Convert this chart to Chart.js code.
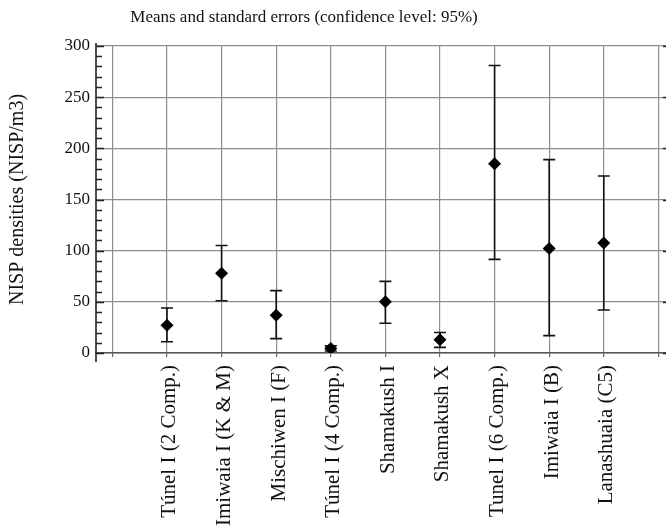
<!DOCTYPE html>
<html>
<head>
<meta charset="utf-8">
<script src="https://cdn.jsdelivr.net/npm/chart.js@4.4.1/dist/chart.umd.min.js"></script>
<style>
  html, body { margin: 0; padding: 0; background: #ffffff; overflow: hidden; }
  #wrap { width: 666px; height: 529px; }
  canvas { display: block; }
</style>
</head>
<body>
<div id="wrap"><canvas id="chart" width="666" height="529"></canvas></div>
<script>
// Mean NISP densities per site, with 95% confidence bounds
const chartTitle = 'Means and standard errors (confidence level: 95%)';
const yAxisTitle = 'NISP densities (NISP/m3)';

const categories = [
  'Túnel I (2 Comp.)',
  'Imiwaia I (K & M)',
  'Mischiwen I (F)',
  'Túnel I (4 Comp.)',
  'Shamakush I',
  'Shamakush X',
  'Tunel I (6 Comp.)',
  'Imiwaia I (B)',
  'Lanashuaia (C5)'
];
const means       = [27, 78, 37, 4.5, 50, 13, 185, 102, 107.5];
const lowerBounds = [11, 51, 14, 2, 29, 5.5, 91.5, 17, 42];
const upperBounds = [44, 105, 61, 7, 70, 20, 281, 189, 173];

const yMajorTicks = [0, 50, 100, 150, 200, 250, 300];
const yMinorStep = 10;

const SERIF = "'Liberation Serif', 'Times New Roman', Times, serif";
const GRID = '#8e8e8e';
const INK = '#111111';

// whiskers with end caps, drawn underneath the diamond markers
const errorBars = {
  id: 'errorBars',
  beforeDatasetsDraw(chart) {
    const { ctx, scales: { x, y } } = chart;
    ctx.save();
    ctx.strokeStyle = INK;
    ctx.lineWidth = 1.6;
    const cap = 6;
    categories.forEach((_, i) => {
      const px = x.getPixelForValue(i);
      const top = y.getPixelForValue(upperBounds[i]);
      const bot = y.getPixelForValue(lowerBounds[i]);
      ctx.beginPath();
      ctx.moveTo(px, top); ctx.lineTo(px, bot);
      ctx.moveTo(px - cap, top); ctx.lineTo(px + cap, top);
      ctx.moveTo(px - cap, bot); ctx.lineTo(px + cap, bot);
      ctx.stroke();
    });
    ctx.restore();
  }
};

// left axis line with inward major/minor ticks, right-edge ticks and the heading
const frame = {
  id: 'frame',
  afterDraw(chart) {
    const { ctx, chartArea: a, scales: { y } } = chart;
    ctx.save();
    ctx.strokeStyle = '#222';
    ctx.lineWidth = 1.6;
    ctx.beginPath();
    ctx.moveTo(a.left, a.top - 3);
    ctx.lineTo(a.left, a.bottom + 9);
    ctx.stroke();

    ctx.lineWidth = 1.4;
    ctx.beginPath();
    for (let v = y.min; v <= y.max; v += yMinorStep) {
      const py = Math.round(y.getPixelForValue(v)) + 0.5;
      const len = yMajorTicks.includes(v) ? 8 : 6;
      ctx.moveTo(a.left, py); ctx.lineTo(a.left + len, py);
    }
    yMajorTicks.forEach(v => {
      const py = Math.round(y.getPixelForValue(v)) + 0.5;
      ctx.moveTo(a.right - 3, py); ctx.lineTo(a.right, py);
    });
    ctx.stroke();

    ctx.fillStyle = INK;
    ctx.font = '17px ' + SERIF;
    ctx.textAlign = 'center';
    ctx.textBaseline = 'middle';
    ctx.fillText(chartTitle, 304, 18);
    ctx.restore();
  }
};

new Chart(document.getElementById('chart'), {
  type: 'scatter',
  data: {
    datasets: [{
      data: means.map((m, i) => ({ x: i, y: m })),
      pointStyle: 'rectRot',
      pointRadius: 6.5,
      pointHoverRadius: 6.5,
      backgroundColor: '#000',
      borderColor: '#000',
      borderWidth: 0
    }]
  },
  options: {
    responsive: false,
    animation: false,
    devicePixelRatio: 1,
    layout: { autoPadding: false, padding: { top: 46, right: 0, bottom: 0, left: 0 } },
    plugins: {
      legend: { display: false },
      tooltip: { enabled: false },
      title: { display: false }
    },
    scales: {
      x: {
        type: 'linear',
        min: -1.3,
        max: 9.14,
        afterBuildTicks: s => {
          s.ticks = [];
          for (let v = -1; v <= categories.length; v++) s.ticks.push({ value: v });
        },
        afterFit: s => {
          s.height = 176;
          s.paddingLeft = 0;
          s.paddingRight = 0;
        },
        ticks: {
          autoSkip: false,
          minRotation: 90,
          maxRotation: 90,
          padding: 8,
          labelOffset: 3,
          color: INK,
          font: { family: SERIF, size: 21 },
          callback: v => (categories[v] !== undefined ? categories[v] : '')
        },
        grid: {
          color: GRID,
          lineWidth: 1.2,
          drawTicks: true,
          tickLength: 4,
          tickColor: '#666'
        },
        border: { display: true, color: '#555', width: 1.5 }
      },
      y: {
        min: 0,
        max: 300,
        afterBuildTicks: s => { s.ticks = yMajorTicks.map(v => ({ value: v })); },
        afterFit: s => {
          s.width = 96;
          s.paddingTop = 0;
          s.paddingBottom = 0;
        },
        ticks: {
          padding: 6,
          color: INK,
          font: { family: SERIF, size: 17 }
        },
        grid: { color: GRID, lineWidth: 1.2, drawTicks: false },
        border: { display: false },
        title: {
          display: true,
          text: yAxisTitle,
          color: INK,
          font: { family: SERIF, size: 20 },
          padding: { top: 6, bottom: 0 }
        }
      }
    }
  },
  plugins: [errorBars, frame]
});
</script>
</body>
</html>
